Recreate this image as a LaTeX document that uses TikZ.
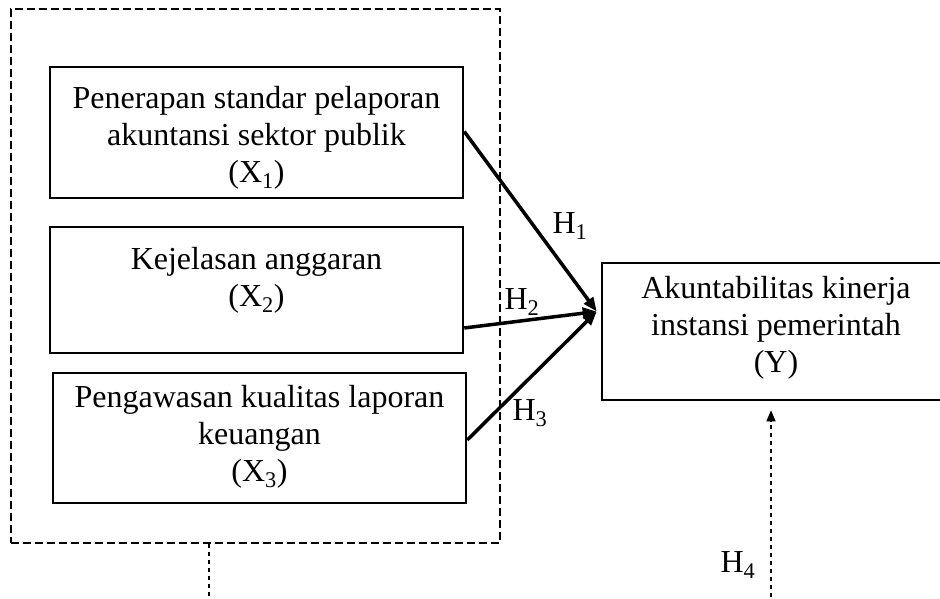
\documentclass[tikz,border=0pt]{standalone}
\usepackage{fontspec}
\setmainfont{Liberation Serif}
\usetikzlibrary{arrows.meta,positioning,calc}
\tikzset{
  varbox/.style={draw, line width=2.5pt, rectangle, inner sep=0pt},
  boxtext/.style={align=center, inner sep=0pt, font=\fontsize{32}{37}\selectfont},
  hyp/.style={line width=3.5pt, -{Triangle[length=14pt,width=11pt]}},
  hlabel/.style={inner sep=0pt, font=\fontsize{32}{37}\selectfont},
  groupframe/.style={draw, line width=2.5pt, dash pattern=on 8pt off 4pt},
  thindash/.style={line width=1.3pt, dash pattern=on 4pt off 4pt}
}
\begin{document}
\begin{tikzpicture}[x=1pt,y=-1pt]
\useasboundingbox (0,0) rectangle (940,599);
\clip (0,0) rectangle (940,599);
\fill[white] (0,0) rectangle (940,599);

% group of independent variables
\node[groupframe, minimum width=489pt, minimum height=534pt, inner sep=0pt] (grp) at (255.5,276) {};

% independent variable boxes
\node[varbox, minimum width=413pt, minimum height=131pt] (x1) at (256.5,132.5) {};
\node[boxtext] (x1t) at (256.5,138) {Penerapan standar pelaporan\\akuntansi sektor publik\\(X\textsubscript{1})};

\node[varbox, minimum width=413pt, minimum height=126pt] (x2) at (256.5,290) {};
\node[boxtext] (x2t) at (256.5,280) {Kejelasan anggaran\\(X\textsubscript{2})};

\node[varbox, minimum width=413pt, minimum height=130pt] (x3) at (259.5,438) {};
\node[boxtext] (x3t) at (259.5,437) {Pengawasan kualitas laporan\\keuangan\\(X\textsubscript{3})};

% dependent variable box
\node[varbox, minimum width=348pt, minimum height=137pt] (y) at (776,331.5) {};
\node[boxtext] (yt) at (776,328) {Akuntabilitas kinerja\\instansi pemerintah\\(Y)};

% convergence point of the hypotheses
\coordinate (tip) at ([xshift=-4pt,yshift=20pt]y.west);

\draw[hyp] ([yshift=1pt]x1.east) -- (tip);
\draw[hyp] ([yshift=-38pt]x2.east) -- (tip);
\draw[hyp] ([yshift=-2pt]x3.east) -- (tip);

\node[hlabel] (h1) at (570,226) {H\textsubscript{1}};
\node[hlabel] (h2) at (522,302) {H\textsubscript{2}};
\node[hlabel] (h3) at (530,413) {H\textsubscript{3}};

% moderating links
\coordinate (grpdrop) at (209,605);
\coordinate (ydrop) at (771,605);
\draw[thindash] (grp.south -| grpdrop) -- (grpdrop);
\draw[thindash, -{Triangle[length=11pt,width=9pt]}] (ydrop) -- ([yshift=-9pt]y.south -| ydrop);
\node[hlabel] (h4) at (738,565) {H\textsubscript{4}};
\end{tikzpicture}
\end{document}
